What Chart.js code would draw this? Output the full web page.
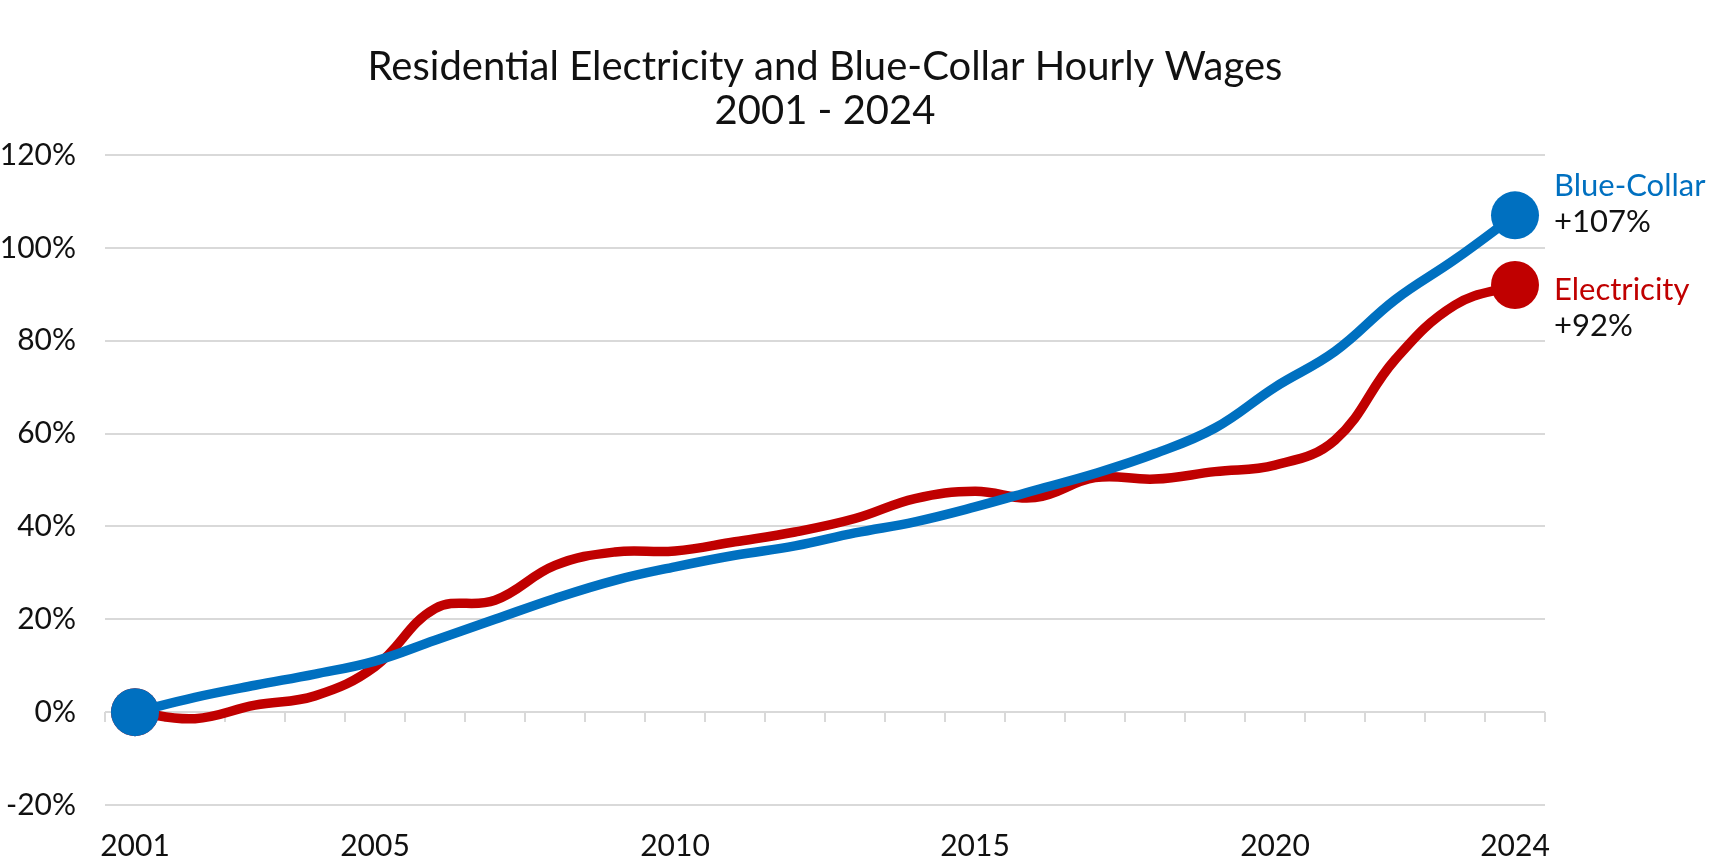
<!DOCTYPE html>
<html>
<head>
<meta charset="utf-8">
<script src="https://cdn.jsdelivr.net/npm/chart.js@4"></script>
<style>
  html, body { margin: 0; padding: 0; background: #fff; }
  #wrap { width: 1728px; height: 866px; }
</style>
</head>
<body>
<div id="wrap"><canvas id="linechart"></canvas></div>
<script>
const years = ['2001', '2002', '2003', '2004', '2005', '2006', '2007', '2008', '2009', '2010', '2011', '2012',
    '2013', '2014', '2015', '2016', '2017', '2018', '2019', '2020', '2021', '2022', '2023', '2024'];
const shownYears = ['2001', '2005', '2010', '2015', '2020', '2024'];

// % change since 2001
const blueCollar = [0, 3.2, 5.8, 8.2, 11, 15.5, 20, 24.5, 28.4, 31.3, 33.8, 35.8,
    38.6, 41, 44.2, 47.8, 51.4, 55.7, 61.2, 70, 77.7, 88.8, 97.5, 107];
const electricity = [0, -1.4, 1.5, 3.5, 9.8, 22.3, 24.1, 31.6, 34.5, 34.7, 36.7, 38.8,
    41.7, 46, 47.6, 46.2, 50.5, 50.2, 51.8, 53.2, 58.6, 75.9, 87.7, 92];

const seriesNames = ['Blue-Collar', 'Electricity'];
const blue = '#0070C0';
const red = '#C00000';
const font = 'Lato';

// dots only on first and last point
const endDot = (c) => (c.dataIndex === 0 || c.dataIndex === years.length - 1) ? 24 : 0;

// name + change written to the right of the last dot
const endLabels = {
    id: 'endLabels',
    afterDatasetsDraw(chart, args, opts) {
        const ctx = chart.ctx;
        ctx.save();
        ctx.font = '31px ' + font;
        ctx.textAlign = 'left';
        ctx.textBaseline = 'alphabetic';
        chart.data.datasets.forEach((ds, i) => {
            const meta = chart.getDatasetMeta(i);
            const pt = meta.data[meta.data.length - 1];
            const last = ds.data[ds.data.length - 1];
            const dy = opts.offsets[i];
            ctx.fillStyle = ds.borderColor;
            ctx.fillText(ds.label, pt.x + 39, pt.y + dy);
            ctx.fillStyle = '#111';
            ctx.fillText('+' + last + '%', pt.x + 39, pt.y + dy + 36);
        });
        ctx.restore();
    }
};

const ctx = document.getElementById('linechart').getContext('2d');
const myChart = new Chart(ctx, {
    type: 'line',
    data: {
        labels: years,
        datasets: [{
            label: seriesNames[0],
            data: blueCollar,
            borderColor: blue,
            backgroundColor: blue,
            borderWidth: 9.5,
            tension: 0.4,
            pointRadius: endDot,
            pointBorderWidth: 0
        }, {
            label: seriesNames[1],
            data: electricity,
            borderColor: red,
            backgroundColor: red,
            borderWidth: 9.5,
            tension: 0.4,
            pointRadius: endDot,
            pointBorderWidth: 0
        }]
    },
    options: {
        responsive: true,
        maintainAspectRatio: false,
        animation: false,
        layout: {
            padding: { left: 0, right: 183, top: 0, bottom: 1 }
        },
        scales: {
            x: {
                offset: true,
                grid: { display: false },
                border: { display: false },
                afterFit: (s) => { s.height = 60; },
                ticks: {
                    autoSkip: false,
                    maxRotation: 0,
                    padding: 15,
                    color: '#111',
                    font: { family: font, size: 30 },
                    callback: function (v) {
                        const lab = this.getLabelForValue(v);
                        return shownYears.includes(lab) ? lab : '';
                    }
                }
            },
            // small tick marks along the 0% line
            xTicks: {
                type: 'category',
                axis: 'x',
                position: { y: 0 },
                offset: true,
                grid: {
                    offset: true,
                    drawOnChartArea: false,
                    drawTicks: true,
                    tickLength: 10,
                    color: '#d9d9d9',
                    lineWidth: 2
                },
                border: { display: false },
                ticks: { display: false }
            },
            y: {
                min: -20,
                max: 120,
                border: { display: false },
                grid: { color: '#d9d9d9', lineWidth: 2, drawTicks: false },
                afterFit: (s) => { s.width = 105; },
                ticks: {
                    stepSize: 20,
                    padding: 29,
                    color: '#111',
                    font: { family: font, size: 30 },
                    callback: (v) => v + '%'
                }
            }
        },
        plugins: {
            legend: { display: false },
            tooltip: { enabled: false },
            title: {
                display: true,
                fullSize: false,
                text: ['Residential Electricity and Blue-Collar Hourly Wages', '2001 - 2024'],
                color: '#111',
                font: { family: font, size: 40, weight: 'normal', lineHeight: 1.1 },
                padding: { top: 45, bottom: 22 }
            },
            endLabels: {
                offsets: [-19, 15]
            }
        }
    },
    plugins: [endLabels]
});
</script>
</body>
</html>
